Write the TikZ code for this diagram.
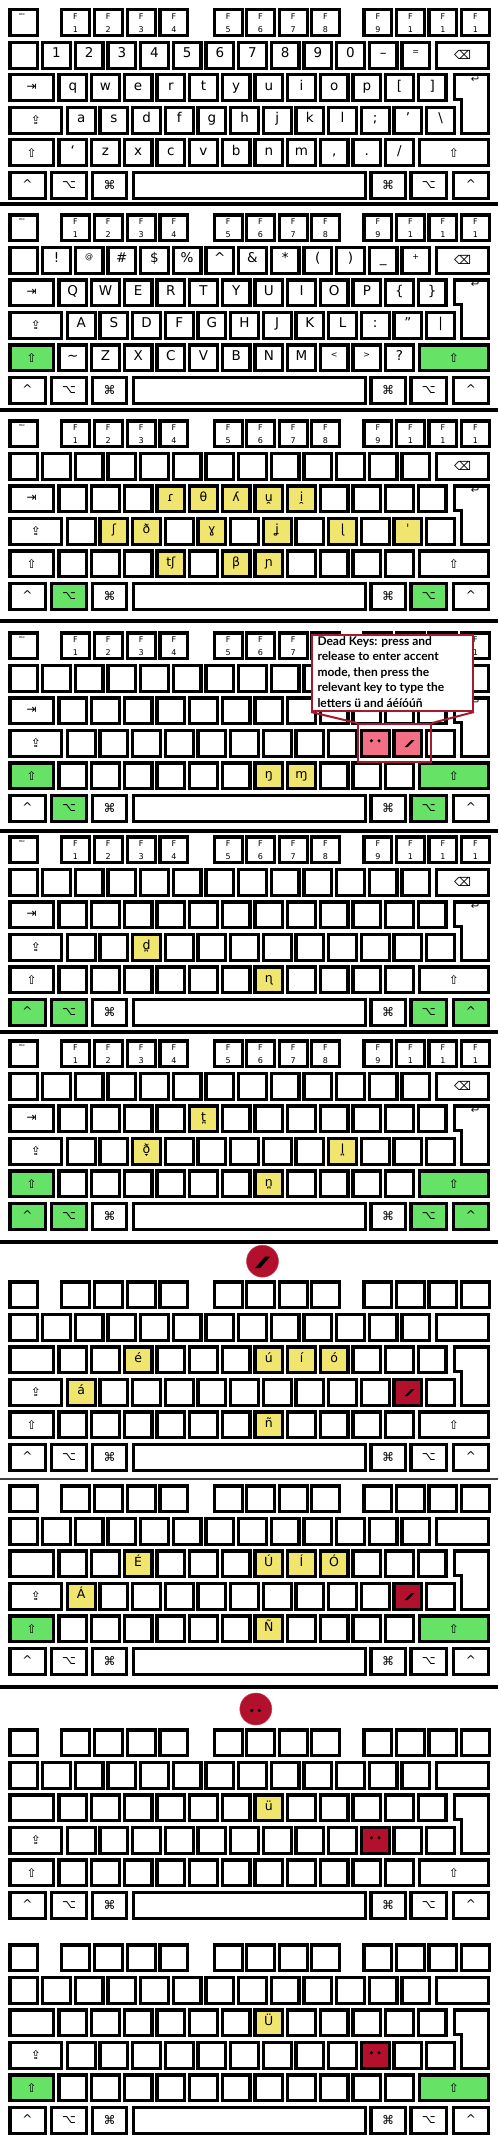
\documentclass[tikz,border=0pt]{standalone}
\usepackage{fontspec}
\setmainfont{DejaVu Sans}
\newfontfamily\cofont{Lato}
\definecolor{kgreen}{RGB}{102,226,102}
\definecolor{kyellow}{RGB}{240,229,110}
\definecolor{kpink}{RGB}{242,111,134}
\definecolor{kred}{RGB}{178,16,44}
\definecolor{cred}{RGB}{166,25,46}
\tikzset{
  keyb/.style={draw=black, line width=3.2pt, fill=white, inner sep=0pt},
  lab/.style={font=\fontsize{13.5}{13.5}\selectfont, text height=8pt, text depth=3pt},
  hlab/.style={font=\fontsize{12.5}{12.5}\selectfont, text height=8pt, text depth=3pt},
  sym/.style={font=\fontsize{12}{12}\selectfont},
  caret/.style={font=\fontsize{12}{12}\selectfont, text height=9pt, text depth=3pt},
  flab/.style={font=\fontsize{8}{12.7}\selectfont, align=center},
  sepline/.style={line width=3.5pt, draw=black},
  calloutbox/.style={draw=cred, line width=2pt, inner sep=0pt},
}
\newcommand\fdig[1]{\ifnum#1>9 1\else#1\fi}
\newcommand\smu[1]{\raisebox{3pt}{\fontsize{8}{8}\selectfont#1}}
% key: name, xl, xr, row, base, fill, style, label
\newcommand\kk[8]{\node[keyb, fill=#6, #7, minimum width={(#3)-(#2)-3.2}, minimum height=25.8] (#1) at ({((#2)+(#3))/2},{(#5)+22.8+((#4)-1)*32.5}) {#8};}
\expandafter\def\csname rx2\endcsname{8.3}
\expandafter\def\csname rx3\endcsname{57.3}
\expandafter\def\csname rx4\endcsname{65.7}
\expandafter\def\csname rx5\endcsname{57.3}
% highlight: id, base, row, index, fill, label
\newcommand\hl[6]{\pgfmathsetmacro\hxl{\csname rx#3\endcsname+#4*32.67}\kk{#1h#3c#4}{\hxl}{\hxl+31}{#3}{#2}{#5}{hlab}{#6}}
\newcommand\dkdots[1]{\fill[shift={(#1.center)}] (-3.8,-2.5) circle (1.7) (3.8,-2.5) circle (1.7);}
\newcommand\dkacute[1]{\fill[shift={(#1.center)}] (-3.5,3.8) -- (-0.5,3.8) -- (6.5,-3.2) -- (3.5,-3.2) -- cycle;}
\def\Bthirteen{\null,\null,\null,\null,\null,\null,\null,\null,\null,\null,\null,\null,\null}
\def\Btwelve{\null,\null,\null,\null,\null,\null,\null,\null,\null,\null,\null,\null}
\def\Beleven{\null,\null,\null,\null,\null,\null,\null,\null,\null,\null,\null}
\def\LtwoA{\null,1,2,3,4,5,6,7,8,9,0,–,\smu{=}}
\def\LthreeA{q,w,e,r,t,y,u,i,o,p,{[},{]}}
\def\LfourA{a,s,d,f,g,h,j,k,l,;,\char"27,\char"5C}
\def\LfiveA{\char"60,z,x,c,v,b,n,m,{,},.,/}
\def\LtwoB{\null,!,\smu{@},\#,\$,\%,\char"5E,\&,*,{(},{)},\_,\smu{+}}
\def\LthreeB{Q,W,E,R,T,Y,U,I,O,P,\char"7B,\char"7D}
\def\LfourB{A,S,D,F,G,H,J,K,L,:,\char"22,|}
\def\LfiveB{\char"7E,Z,X,C,V,B,N,M,\smu{<},\smu{>},?}
% keyboard: id, base, level (2 full, 1 modifiers, 0 bare)
\newcommand\kbd[3]{%
  \kk{#1esc}{8.3}{39.3}{1}{#2}{white}{}{}
  \ifnum#3>0
    \node[font=\fontsize{3.5}{3.5}\selectfont, inner sep=0pt] (#1escl) at (22,{#2+15}) {esc};
  \fi
  \foreach \xl [count=\i] in {60,92.7,125.7,158.3,212.7,245,277.7,310,362.3,395,427.3,460}
    {\kk{#1f\i}{\xl}{\xl+31}{1}{#2}{white}{flab}{\ifnum#3>0 F\\\fdig{\i}\fi}}
  \foreach \lb [count=\i from 0] in \Ltwo
    {\kk{#1r2c\i}{8.3+\i*32.67}{39.3+\i*32.67}{2}{#2}{white}{lab}{\lb}}
  \kk{#1bksp}{435}{490}{2}{#2}{white}{sym}{\ifnum#3>0 ⌫\fi}
  \kk{#1tab}{8.3}{55}{3}{#2}{white}{sym}{\ifnum#3>0 ⇥\fi}
  \foreach \lb [count=\i from 0] in \Lthree
    {\kk{#1r3c\i}{57.3+\i*32.67}{88.3+\i*32.67}{3}{#2}{white}{lab}{\lb}}
  \draw[keyb] (454.6,{#2+74.9}) -- (488.4,{#2+74.9}) -- (488.4,{#2+133.2}) -- (461.6,{#2+133.2}) -- (461.6,{#2+99.4}) -- (454.6,{#2+99.4}) -- cycle;
  \ifnum#3>0
    \node[font=\fontsize{10}{10}\selectfont, inner sep=0pt] (#1retl) at (475,{#2+80}) {↩};
  \fi
  \kk{#1caps}{8.3}{63.3}{4}{#2}{white}{sym}{⇪}
  \foreach \lb [count=\i from 0] in \Lfour
    {\kk{#1r4c\i}{65.7+\i*32.67}{96.7+\i*32.67}{4}{#2}{white}{lab}{\lb}}
  \kk{#1lsh}{8.3}{55}{5}{#2}{\fSh}{sym}{⇧}
  \foreach \lb [count=\i from 0] in \Lfive
    {\kk{#1r5c\i}{57.3+\i*32.67}{88.3+\i*32.67}{5}{#2}{white}{lab}{\lb}}
  \kk{#1rsh}{418}{490}{5}{#2}{\fSh}{sym}{⇧}
  \kk{#1lct}{8.3}{46.7}{6}{#2}{\fCt}{caret}{\char"5E}
  \kk{#1lop}{50}{88.3}{6}{#2}{\fOp}{sym}{⌥}
  \kk{#1lcm}{90.7}{128.3}{6}{#2}{white}{sym}{⌘}
  \kk{#1spc}{131.7}{366.7}{6}{#2}{white}{}{}
  \kk{#1rcm}{369.3}{406.7}{6}{#2}{white}{sym}{⌘}
  \kk{#1rop}{409.3}{448.3}{6}{#2}{\fOp}{sym}{⌥}
  \kk{#1rct}{451.7}{490}{6}{#2}{\fCt}{caret}{\char"5E}
}
\newcommand\blanklists{\let\Ltwo\Bthirteen\let\Lthree\Btwelve\let\Lfour\Btwelve\let\Lfive\Beleven}
\newcommand\mods[3]{\def\fSh{#1}\def\fOp{#2}\def\fCt{#3}}
\begin{document}
\begin{tikzpicture}[x=1pt,y=-1pt]
\useasboundingbox (0,0) rectangle (498,2146);
\fill[white] (0,0) rectangle (498,2146);

% 1: base layer
\let\Ltwo\LtwoA\let\Lthree\LthreeA\let\Lfour\LfourA\let\Lfive\LfiveA
\mods{white}{white}{white}
\kbd{ka}{0}{2}
\draw[sepline] (0,204) -- (498,204);

% 2: shift layer
\let\Ltwo\LtwoB\let\Lthree\LthreeB\let\Lfour\LfourB\let\Lfive\LfiveB
\mods{kgreen}{white}{white}
\kbd{kb}{205}{2}
\draw[sepline] (0,410) -- (498,410);

% 3: option layer
\blanklists
\mods{white}{kgreen}{white}
\kbd{kc}{411}{1}
\hl{kc}{411}{3}{3}{kyellow}{ɾ}
\hl{kc}{411}{3}{4}{kyellow}{θ}
\hl{kc}{411}{3}{5}{kyellow}{ʎ}
\hl{kc}{411}{3}{6}{kyellow}{u̯}
\hl{kc}{411}{3}{7}{kyellow}{i̯}
\hl{kc}{411}{4}{1}{kyellow}{ʃ}
\hl{kc}{411}{4}{2}{kyellow}{ð}
\hl{kc}{411}{4}{4}{kyellow}{ɣ}
\hl{kc}{411}{4}{6}{kyellow}{ʝ}
\hl{kc}{411}{4}{8}{kyellow}{ɭ}
\hl{kc}{411}{4}{10}{kyellow}{ˈ}
\hl{kc}{411}{5}{3}{kyellow}{tʃ}
\hl{kc}{411}{5}{5}{kyellow}{β}
\hl{kc}{411}{5}{6}{kyellow}{ɲ}
\draw[sepline] (0,621) -- (498,621);

% 4: option + shift layer
\mods{kgreen}{kgreen}{white}
\kbd{kd}{623}{1}
\hl{kd}{623}{5}{6}{kyellow}{ŋ}
\hl{kd}{623}{5}{7}{kyellow}{ɱ}
\hl{kd}{623}{4}{9}{kpink}{}
\hl{kd}{623}{4}{10}{kpink}{}
\dkdots{kdh4c9}
\dkacute{kdh4c10}
\node[calloutbox, minimum width=73, minimum height=38] (deadrect) at (394.5,743) {};
\node[calloutbox, fill=white, minimum width=161, minimum height=76, anchor=north west] (callout) at (311,634) {};
\draw[draw=cred, line width=2pt] (callout.south west) -- (deadrect.north west);
\draw[draw=cred, line width=2pt] (callout.south east) -- (deadrect.north east);
\node[font=\cofont\bfseries\fontsize{12}{15.5}\selectfont, align=left, anchor=north west, inner sep=0pt] (ctext) at (317.3,636) {Dead Keys: press and\\release to enter accent\\mode, then press the\\relevant key to type the\\letters ü and áéíóúñ};
\draw[sepline] (0,831) -- (498,831);

% 5: control + option layer
\mods{white}{kgreen}{kgreen}
\kbd{ke}{827}{1}
\hl{ke}{827}{4}{2}{kyellow}{d̪}
\hl{ke}{827}{5}{6}{kyellow}{ɳ}
\draw[sepline] (0,1032) -- (498,1032);

% 6: control + option + shift layer
\mods{kgreen}{kgreen}{kgreen}
\kbd{kf}{1031}{1}
\hl{kf}{1031}{3}{4}{kyellow}{t̪}
\hl{kf}{1031}{4}{2}{kyellow}{ð̞}
\hl{kf}{1031}{4}{8}{kyellow}{l̪}
\hl{kf}{1031}{5}{6}{kyellow}{n̪}
\draw[sepline, line width=4.5pt] (0,1242) -- (498,1242);

% 7: acute dead key
\node[circle, fill=kred, draw=kred!80!white, line width=0.5pt, minimum size=32, inner sep=0pt] (acutesign) at (262.5,1261.2) {};
\fill[shift={(acutesign.center)}] (-7.5,7) -- (-2.5,7) -- (7.5,-4.5) -- (2.5,-4.5) -- cycle;
\mods{white}{white}{white}
\kbd{kg}{1272}{0}
\hl{kg}{1272}{3}{2}{kyellow}{é}
\hl{kg}{1272}{3}{6}{kyellow}{ú}
\hl{kg}{1272}{3}{7}{kyellow}{í}
\hl{kg}{1272}{3}{8}{kyellow}{ó}
\hl{kg}{1272}{4}{0}{kyellow}{á}
\hl{kg}{1272}{5}{6}{kyellow}{ñ}
\hl{kg}{1272}{4}{10}{kred}{}
\dkacute{kgh4c10}
\draw[line width=2pt, black!75] (0,1479) -- (498,1479);

% 8: acute dead key + shift
\mods{kgreen}{white}{white}
\kbd{kh}{1476}{0}
\hl{kh}{1476}{3}{2}{kyellow}{É}
\hl{kh}{1476}{3}{6}{kyellow}{Ú}
\hl{kh}{1476}{3}{7}{kyellow}{Í}
\hl{kh}{1476}{3}{8}{kyellow}{Ó}
\hl{kh}{1476}{4}{0}{kyellow}{Á}
\hl{kh}{1476}{5}{6}{kyellow}{Ñ}
\hl{kh}{1476}{4}{10}{kred}{}
\dkacute{khh4c10}
\draw[sepline, line width=4.5pt] (0,1687) -- (498,1687);

% 9: diaeresis dead key
\node[circle, fill=kred, draw=kred!80!white, line width=0.5pt, minimum size=32, inner sep=0pt] (diasign) at (255.8,1709) {};
\fill[shift={(diasign.center)}] (-4,1.5) circle (1.8) (3.6,1.5) circle (1.8);
\mods{white}{white}{white}
\kbd{ki}{1720}{0}
\hl{ki}{1720}{3}{6}{kyellow}{ü}
\hl{ki}{1720}{4}{9}{kred}{}
\dkdots{kih4c9}

% 10: diaeresis dead key + shift
\mods{kgreen}{white}{white}
\kbd{kj}{1935}{0}
\hl{kj}{1935}{3}{6}{kyellow}{Ü}
\hl{kj}{1935}{4}{9}{kred}{}
\dkdots{kjh4c9}
\end{tikzpicture}
\end{document}
